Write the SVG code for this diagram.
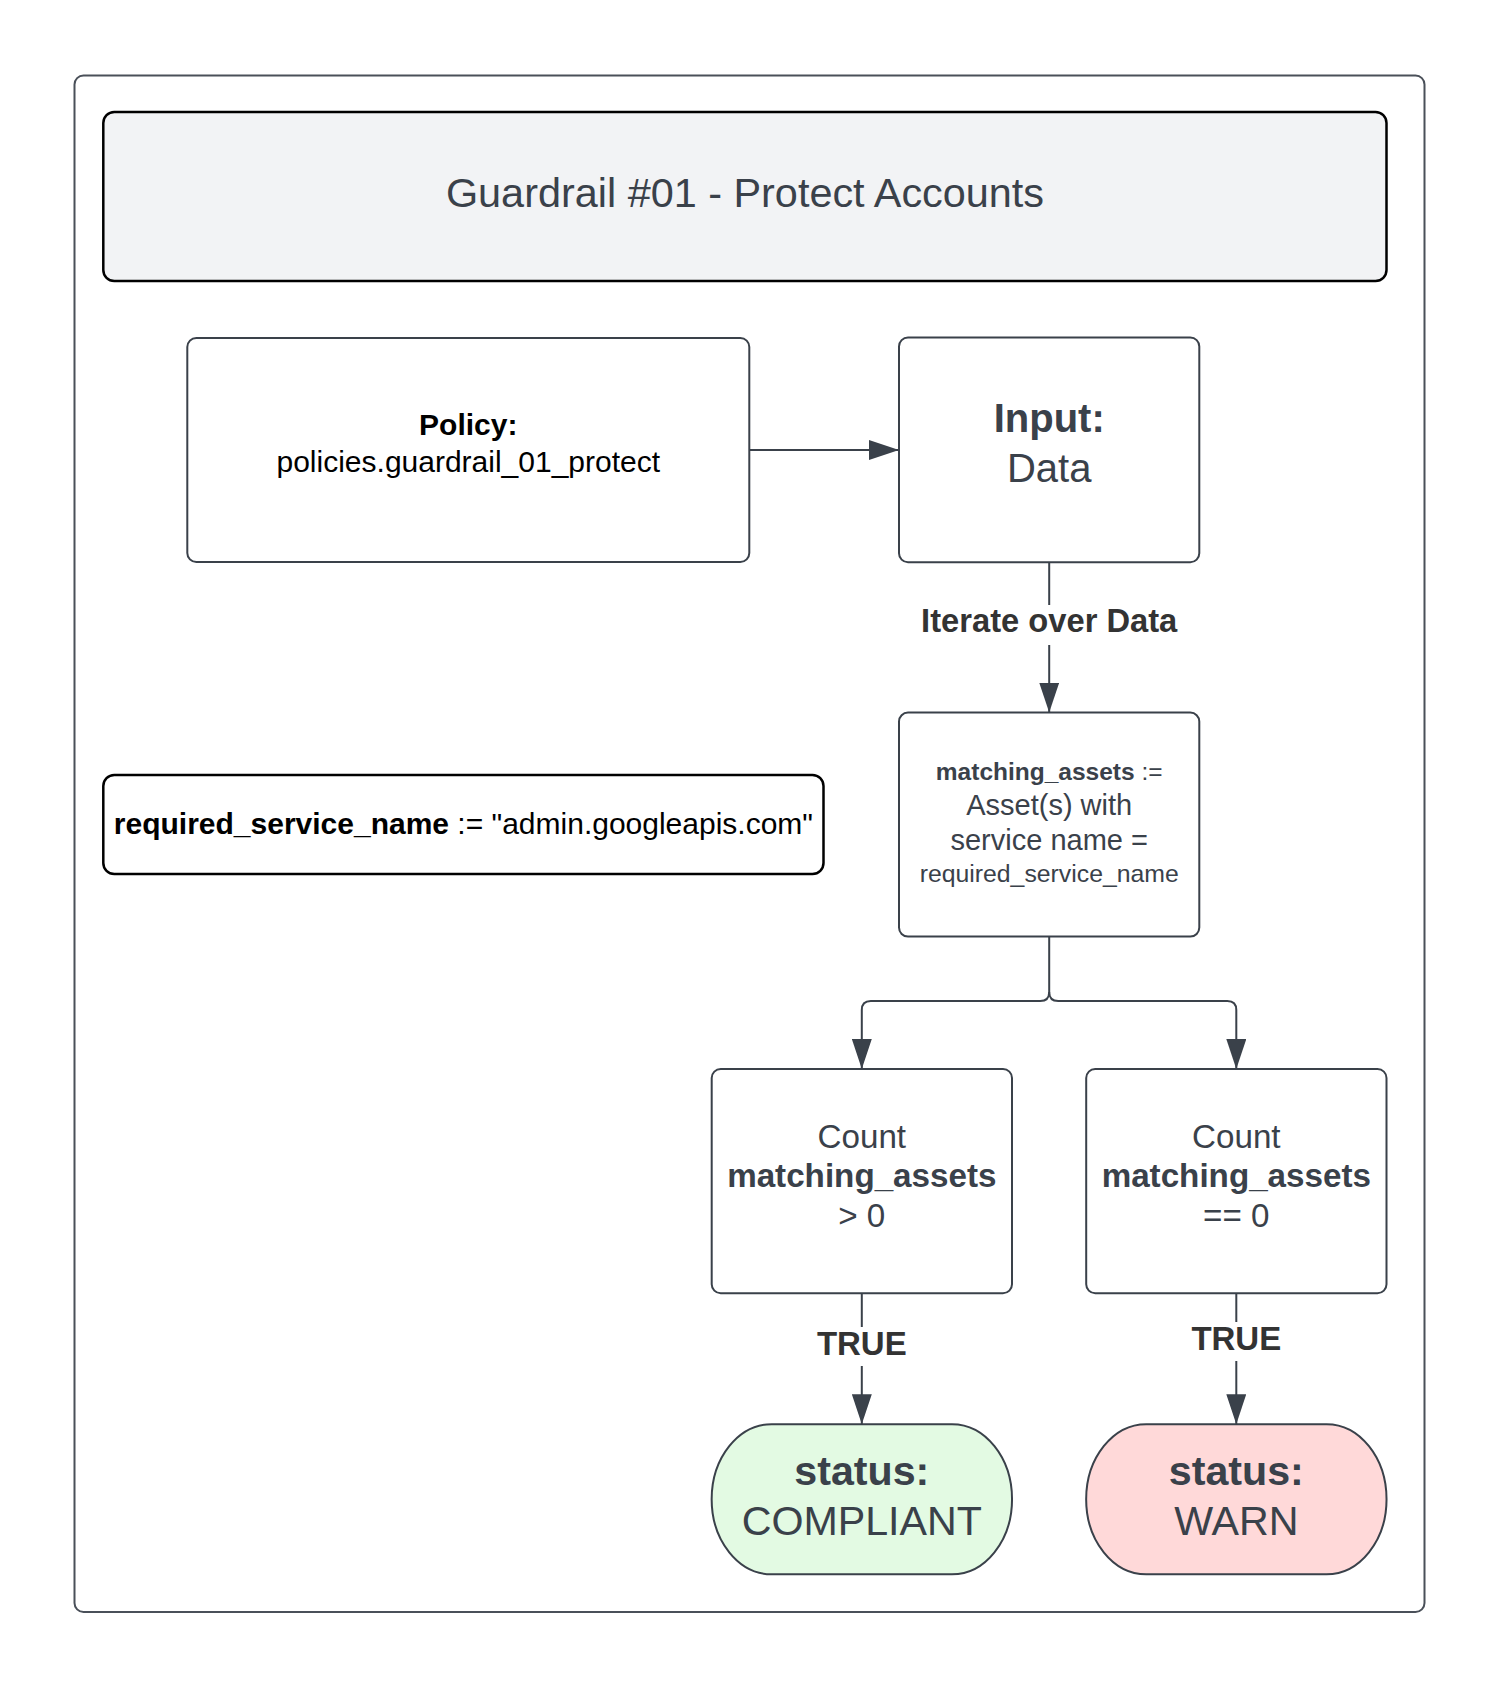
<svg xmlns="http://www.w3.org/2000/svg" width="1500" height="1688" viewBox="0 0 1500 1688">
<style>
text{font-family:"Liberation Sans",Arial,sans-serif;text-anchor:middle}
.g{fill:#3a414a}
.k{fill:#000}
.b{font-weight:bold}
.box{fill:#fff;stroke:#3a414a;stroke-width:2}
.bk{stroke:#000;stroke-width:2.5}
.c{fill:none;stroke:#3a414a;stroke-width:2}
</style>
<defs>
<marker id="ah" markerUnits="userSpaceOnUse" markerWidth="30" markerHeight="20" refX="30" refY="10" orient="auto">
<path d="M0,0 L30,10 L0,20 z" fill="#3a414a"/>
</marker>
</defs>
<rect width="1500" height="1688" fill="#fff"/>
<g id="frame"><rect x="74.5" y="75.5" width="1350" height="1536.5" rx="9" fill="#fff" stroke="#4a5059" stroke-width="2"/></g>
<g id="header">
<rect x="103.3" y="112" width="1283.2" height="169" rx="11" fill="#f2f3f5" class="bk"/>
<text x="745" y="207" font-size="41.4" class="g">Guardrail #01 - Protect Accounts</text>
</g>
<g id="policy">
<rect x="187.3" y="338" width="562" height="224" rx="9" class="box"/>
<text x="468.3" y="435" font-size="30" class="k b">Policy:</text>
<text x="468.3" y="472" font-size="30" class="k">policies.guardrail_01_protect</text>
</g>
<g id="input">
<rect x="899" y="337.5" width="300.3" height="224.8" rx="9" class="box"/>
<text x="1049.2" y="431.7" font-size="40" class="g b">Input:</text>
<text x="1049.2" y="482.3" font-size="40" class="g">Data</text>
</g>
<g id="required">
<rect x="103.3" y="775" width="720.2" height="99" rx="11" fill="#fff" class="bk"/>
<text x="463.4" y="834" font-size="30" class="k"><tspan font-weight="bold">required_service_name</tspan> := "admin.googleapis.com"</text>
</g>
<g id="matching">
<rect x="899" y="712.6" width="300.3" height="224" rx="9" class="box"/>
<text x="1049.2" y="780" font-size="24.5" class="g"><tspan font-weight="bold">matching_assets</tspan> :=</text>
<text x="1049.2" y="815" font-size="29" class="g">Asset(s) with</text>
<text x="1049.2" y="850" font-size="29" class="g">service name =</text>
<text x="1049.2" y="882" font-size="24.8" class="g">required_service_name</text>
</g>
<g id="count-gt">
<rect x="711.7" y="1069" width="300.3" height="224.3" rx="9" class="box"/>
<text x="861.8" y="1147.7" font-size="33.2" class="g">Count</text>
<text x="861.8" y="1186.7" font-size="33.2" class="g b">matching_assets</text>
<text x="861.8" y="1226.7" font-size="33.2" class="g">&gt; 0</text>
</g>
<g id="count-eq">
<rect x="1086.2" y="1069" width="300.3" height="224.3" rx="9" class="box"/>
<text x="1236.3" y="1147.7" font-size="33.2" class="g">Count</text>
<text x="1236.3" y="1186.7" font-size="33.2" class="g b">matching_assets</text>
<text x="1236.3" y="1226.7" font-size="33.2" class="g">== 0</text>
</g>
<g id="compliant">
<path d="M771.7,1424.2 H952 A60,75 0 0 1 952,1574.3 H771.7 A60,75 0 0 1 771.7,1424.2 z" fill="#e3fae3" stroke="#3a414a" stroke-width="2"/>
<text x="861.8" y="1485" font-size="41.2" class="g b">status:</text>
<text x="861.8" y="1535" font-size="41.2" class="g">COMPLIANT</text>
</g>
<g id="warn">
<path d="M1146.2,1424.2 H1326.5 A60,75 0 0 1 1326.5,1574.3 H1146.2 A60,75 0 0 1 1146.2,1424.2 z" fill="#ffd9d9" stroke="#3a414a" stroke-width="2"/>
<text x="1236.3" y="1485" font-size="41.2" class="g b">status:</text>
<text x="1236.3" y="1535" font-size="41.2" class="g">WARN</text>
</g>
<g id="connectors">
<path class="c" d="M749.3,450 H899" marker-end="url(#ah)"/>
<path class="c" d="M1049.2,562.3 V605"/>
<path class="c" d="M1049.2,645 V712.6" marker-end="url(#ah)"/>
<text x="1049.2" y="632" font-size="32.7" fill="#333" font-weight="bold">Iterate over Data</text>
<path class="c" d="M1049.2,936.6 V992 Q1049.2,1001 1040.2,1001 H870.8 Q861.8,1001 861.8,1010 V1069" marker-end="url(#ah)"/>
<path class="c" d="M1049.2,992 Q1049.2,1001 1058.2,1001 H1227.3 Q1236.3,1001 1236.3,1010 V1069" marker-end="url(#ah)"/>
<path class="c" d="M861.8,1293.3 V1327"/>
<path class="c" d="M861.8,1366 V1424.2" marker-end="url(#ah)"/>
<text x="861.8" y="1355" font-size="33" fill="#333" font-weight="bold">TRUE</text>
<path class="c" d="M1236.3,1293.3 V1322"/>
<path class="c" d="M1236.3,1361 V1424.2" marker-end="url(#ah)"/>
<text x="1236.3" y="1350" font-size="33" fill="#333" font-weight="bold">TRUE</text>
</g>
</svg>
